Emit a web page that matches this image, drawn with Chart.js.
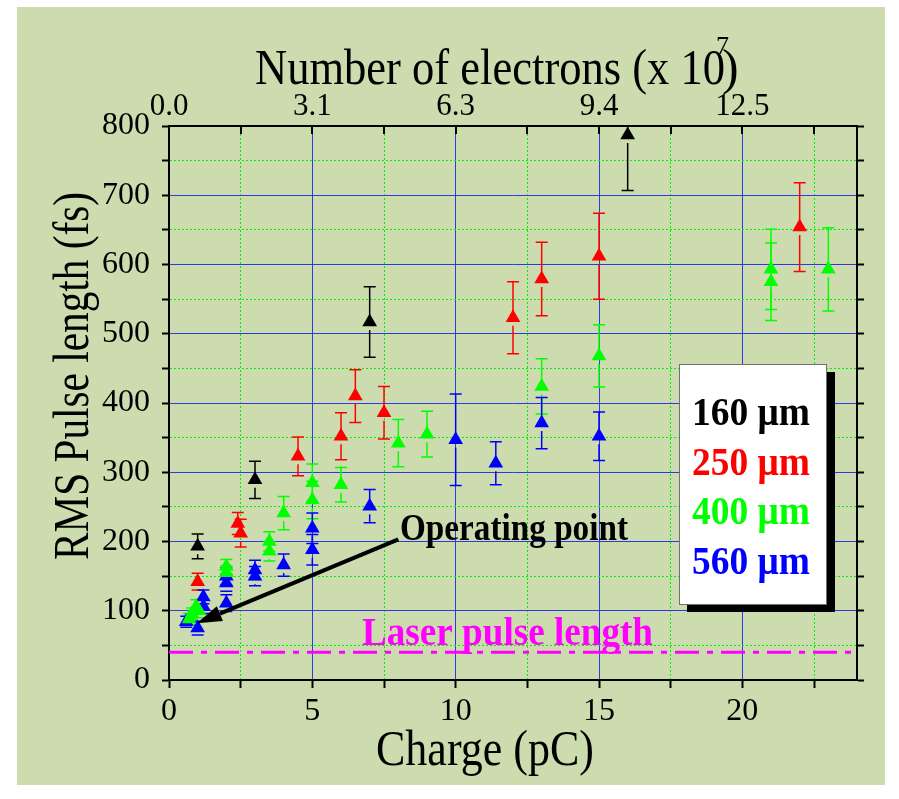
<!DOCTYPE html>
<html>
<head>
<meta charset="utf-8">
<script src="https://cdn.jsdelivr.net/npm/chart.js@4.4.0/dist/chart.umd.min.js"></script>
<style>
  html, body { margin: 0; padding: 0; background: #ffffff; }
  canvas { display: block; }
</style>
</head>
<body>
<canvas id="pulse-length-chart" width="899" height="799"></canvas>
<script>
// Charge in pC, RMS pulse length in fs, symmetric error in fs
const SERIES_LABELS = ['160 \u03bcm', '250 \u03bcm', '400 \u03bcm', '560 \u03bcm'];
const SERIES_COLORS = ['#000000', '#ff0000', '#00ff00', '#0000ff'];

const charge160 = [1, 3, 7, 16];
const length160 = [193, 289, 517, 787];
const error160 = [18, 27, 51, 80];

const charge250 = [1, 2.4, 2.5, 4.5, 6, 6.5, 7.5, 12, 13, 15, 22];
const length250 = [142, 226, 212, 323, 352, 410, 386, 523, 579, 612, 654];
const error250 = [12, 16, 20, 28, 34, 38, 38, 52, 53, 62, 64];

const charge400 = [0.7, 0.8, 0.95, 1.05, 2, 2, 3.5, 3.5, 4, 5, 5, 6, 8, 9, 13, 15, 21, 21, 23];
const length400 = [88, 96, 106, 100, 164, 155, 200, 186, 241, 285, 260, 282, 342, 355, 424, 468, 593, 575, 593];
const error400 = [8, 8, 10, 10, 10, 10, 14, 14, 24, 27, 27, 25, 34, 33, 40, 45, 58, 56, 60];

const charge560 = [0.6, 1, 1.2, 1.2, 2, 2, 2, 3, 3, 4, 5, 5, 7, 10, 11.4, 13, 15];
const length560 = [84, 75, 106, 120, 150, 140, 111, 159, 150, 166, 219, 188, 251, 347, 313, 371, 352];
const error560 = [8, 10, 10, 10, 12, 12, 12, 14, 14, 16, 22, 22, 24, 66, 31, 37, 35];

// axes
const X_MAX = 24;
const Y_MAX = 800;
const X_TICK_STEP = 2.5; // labelled every 5 pC
const Y_TICK_STEP = 50; // labelled every 100 fs
const ELECTRONS_PER_PC = 0.625; // in units of 10^7

// annotations
const LASER_PULSE_LENGTH = 40;
const LASER_LINE_CHARGE = [0, X_MAX];
const ARROW_FROM = [8.0, 203];
const ARROW_TO = [0.97, 82];

const SERIF = "'Liberation Serif', 'Times New Roman', serif";
const MAJOR_GRID = '#2b3be0';
const MINOR_GRID = '#00f000';

const toPoints = (xs, ys, errs) => xs.map((x, i) => ({ x: x, y: ys[i], err: errs[i] }));

const seriesPoints = [
  toPoints(charge160, length160, error160),
  toPoints(charge250, length250, error250),
  toPoints(charge400, length400, error400),
  toPoints(charge560, length560, error560),
];

const isMajor = (value, every) => Math.abs(value / every - Math.round(value / every)) < 1e-6;
const gridColor = (every) => (ctx) => (ctx.tick && isMajor(ctx.tick.value, every) ? MAJOR_GRID : MINOR_GRID);
const gridDash = (every) => (ctx) => (ctx.tick && !isMajor(ctx.tick.value, every) ? [2, 2] : []);

const figureBackground = {
  id: 'figureBackground',
  beforeDraw(chart) {
    const { ctx, width, height } = chart;
    ctx.save();
    ctx.fillStyle = '#ffffff';
    ctx.fillRect(0, 0, width, height);
    ctx.fillStyle = '#cddcae';
    ctx.fillRect(17, 7, 868, 778);
    ctx.restore();
  },
};

const errorBars = {
  id: 'errorBars',
  beforeDatasetsDraw(chart) {
    const { ctx, chartArea } = chart;
    const yScale = chart.scales.y;
    ctx.save();
    ctx.beginPath();
    ctx.rect(chartArea.left, chartArea.top, chartArea.right - chartArea.left, chartArea.bottom - chartArea.top);
    ctx.clip();
    ctx.lineWidth = 1.5;
    chart.data.datasets.forEach((ds, di) => {
      if (!ds.errorBars) return;
      const meta = chart.getDatasetMeta(di);
      ctx.strokeStyle = ds.backgroundColor;
      meta.data.forEach((pt, i) => {
        const d = ds.data[i];
        const top = yScale.getPixelForValue(d.y + d.err);
        const bottom = yScale.getPixelForValue(d.y - d.err);
        const cap = 6;
        ctx.beginPath();
        ctx.moveTo(pt.x, top);
        ctx.lineTo(pt.x, pt.y);
        if (bottom > pt.y + 8) {
          ctx.moveTo(pt.x, pt.y + 8);
          ctx.lineTo(pt.x, bottom);
        }
        ctx.moveTo(pt.x - cap, top);
        ctx.lineTo(pt.x + cap, top);
        ctx.moveTo(pt.x - cap, bottom);
        ctx.lineTo(pt.x + cap, bottom);
        ctx.stroke();
      });
    });
    ctx.restore();
  },
};

const drawText = (ctx, text, x, y, font, color, maxWidth, align) => {
  ctx.font = font;
  ctx.fillStyle = color;
  ctx.textAlign = align || 'left';
  ctx.textBaseline = 'alphabetic';
  ctx.fillText(text, x, y, maxWidth);
};

const figureText = {
  id: 'figureText',
  afterDraw(chart) {
    const { ctx, scales } = chart;
    const x = scales.x;
    const y = scales.y;
    const x2 = scales.x2;
    ctx.save();

    // inward ticks on the top axis
    ctx.strokeStyle = '#000';
    ctx.lineWidth = 2;
    x2.ticks.forEach((t) => {
      const px = Math.round(x2.getPixelForValue(t.value));
      ctx.beginPath();
      ctx.moveTo(px, x2.bottom);
      ctx.lineTo(px, x2.bottom + 8);
      ctx.stroke();
    });

    // axis titles
    drawText(ctx, 'Number of electrons (x 10', 255, 84, `50px ${SERIF}`, '#000', 470);
    drawText(ctx, ')', 722, 84, `50px ${SERIF}`, '#000');
    drawText(ctx, '7', 716, 54, `26px ${SERIF}`, '#000');
    drawText(ctx, 'Charge (pC)', 485, 765, `50px ${SERIF}`, '#000', 218, 'center');
    ctx.save();
    ctx.translate(88, 376);
    ctx.rotate(-Math.PI / 2);
    drawText(ctx, 'RMS Pulse length (fs)', 0, 0, `50px ${SERIF}`, '#000', 368, 'center');
    ctx.restore();

    // operating point arrow
    const fx = x.getPixelForValue(ARROW_FROM[0]);
    const fy = y.getPixelForValue(ARROW_FROM[1]);
    const tx = x.getPixelForValue(ARROW_TO[0]);
    const ty = y.getPixelForValue(ARROW_TO[1]);
    const ang = Math.atan2(ty - fy, tx - fx);
    const headLen = 25;
    const headHalf = 8;
    const bx = tx - Math.cos(ang) * headLen;
    const by = ty - Math.sin(ang) * headLen;
    ctx.strokeStyle = '#000';
    ctx.lineWidth = 4;
    ctx.beginPath();
    ctx.moveTo(fx, fy);
    ctx.lineTo(bx, by);
    ctx.stroke();
    ctx.fillStyle = '#000';
    ctx.beginPath();
    ctx.moveTo(tx, ty);
    ctx.lineTo(bx + Math.sin(ang) * headHalf, by - Math.cos(ang) * headHalf);
    ctx.lineTo(bx - Math.sin(ang) * headHalf, by + Math.cos(ang) * headHalf);
    ctx.closePath();
    ctx.fill();
    drawText(ctx, 'Operating point', 400, 540, `bold 38px ${SERIF}`, '#000', 228);

    // laser pulse label
    drawText(ctx, 'Laser pulse length', 362, 645, `bold 40px ${SERIF}`, '#ff00ff', 291);

    // legend box
    ctx.fillStyle = '#000';
    ctx.fillRect(687, 372, 148, 240);
    ctx.fillStyle = '#ffffff';
    ctx.fillRect(679, 364, 148, 241);
    ctx.strokeStyle = '#707070';
    ctx.lineWidth = 1;
    ctx.strokeRect(679.5, 364.5, 147, 240);
    SERIES_LABELS.forEach((label, i) => {
      drawText(ctx, label, 692, 425 + i * 49.5, `bold 40px ${SERIF}`, SERIES_COLORS[i], 118);
    });
    ctx.restore();
  },
};

const datasets = seriesPoints.map((pts, i) => ({
  label: SERIES_LABELS[i],
  data: pts,
  errorBars: true,
  pointStyle: 'triangle',
  pointRadius: 8.5,
  backgroundColor: SERIES_COLORS[i],
  borderColor: SERIES_COLORS[i],
  borderWidth: 0,
  showLine: false,
}));

datasets.push({
  label: 'Laser pulse length',
  data: LASER_LINE_CHARGE.map((c) => ({ x: c, y: LASER_PULSE_LENGTH })),
  showLine: true,
  borderColor: '#ff00ff',
  borderWidth: 3,
  borderDash: [24, 8, 6, 8],
  pointRadius: 0,
  fill: false,
});

new Chart(document.getElementById('pulse-length-chart'), {
  type: 'scatter',
  data: { datasets: datasets },
  options: {
    responsive: false,
    animation: false,
    events: [],
    layout: { padding: 0 },
    plugins: {
      legend: { display: false },
      tooltip: { enabled: false },
      title: { display: false },
    },
    scales: {
      x: {
        type: 'linear',
        position: 'bottom',
        min: 0,
        max: X_MAX,
        afterFit: (s) => { s.height = 119; },
        ticks: {
          stepSize: X_TICK_STEP,
          includeBounds: false,
          autoSkip: false,
          maxRotation: 0,
          padding: 4,
          color: '#000',
          font: { family: SERIF, size: 32 },
          callback: (v) => (isMajor(v, 5) ? v : ''),
        },
        grid: { color: gridColor(5), lineWidth: 1, tickLength: 8, tickColor: '#000', tickWidth: 2 },
        border: { color: '#000', width: 2, dash: gridDash(5) },
      },
      x2: {
        type: 'linear',
        position: 'top',
        min: 0,
        max: X_MAX,
        afterFit: (s) => { s.height = 126; },
        ticks: {
          stepSize: X_TICK_STEP,
          includeBounds: false,
          autoSkip: false,
          maxRotation: 0,
          padding: 1,
          color: '#000',
          font: { family: SERIF, size: 31 },
          callback: (v) => (isMajor(v, 5) ? (v * ELECTRONS_PER_PC).toFixed(1) : ''),
        },
        grid: { drawOnChartArea: false, drawTicks: false },
        border: { color: '#000', width: 2 },
      },
      y: {
        type: 'linear',
        position: 'left',
        min: 0,
        max: Y_MAX,
        afterFit: (s) => { s.width = 169; },
        ticks: {
          stepSize: Y_TICK_STEP,
          includeBounds: false,
          autoSkip: false,
          padding: 12,
          color: '#000',
          font: { family: SERIF, size: 32 },
          callback: (v) => (isMajor(v, 100) ? v : ''),
        },
        grid: { color: gridColor(100), lineWidth: 1, tickLength: 7, tickColor: '#000', tickWidth: 2 },
        border: { color: '#000', width: 2, dash: gridDash(100) },
      },
      y2: {
        type: 'linear',
        position: 'right',
        min: 0,
        max: Y_MAX,
        afterFit: (s) => { s.width = 42; },
        ticks: { stepSize: Y_TICK_STEP, display: false },
        grid: { drawOnChartArea: false, tickLength: 7, tickColor: '#000', tickWidth: 2 },
        border: { color: '#000', width: 2 },
      },
    },
  },
  plugins: [figureBackground, errorBars, figureText],
});
</script>
</body>
</html>
